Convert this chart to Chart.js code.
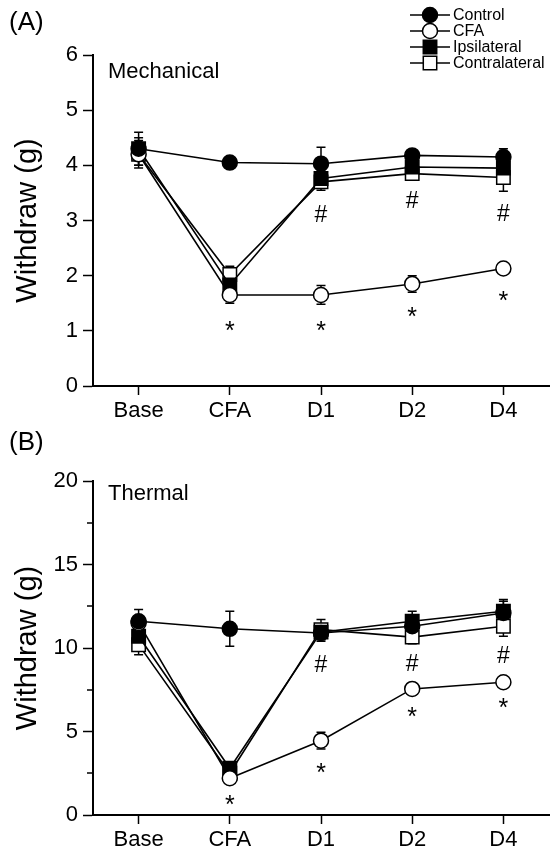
<!DOCTYPE html>
<html><head><meta charset="utf-8">
<script src="https://cdn.jsdelivr.net/npm/chart.js@4.4.0/dist/chart.umd.min.js"></script>
<style>
html,body{margin:0;padding:0;background:#fff;overflow:hidden;width:550px;height:856px}
.panel{position:absolute;left:0;width:550px;height:428px;overflow:hidden}
#pa{top:0}#pb{top:428px}
canvas{display:block}
.lbl{position:absolute;font-family:'Liberation Sans',Arial,sans-serif;color:#000;white-space:nowrap;line-height:1}
</style></head><body>
<div class="panel" id="pa"><canvas id="ca" width="560" height="428" style="width:560px;height:428px"></canvas>
<div class="lbl" style="left:9px;top:8px;font-size:26px">(A)</div>
<div class="lbl" style="left:108px;top:60px;font-size:22px">Mechanical</div>
</div>
<div class="panel" id="pb"><canvas id="cb" width="560" height="428" style="width:560px;height:428px"></canvas>
<div class="lbl" style="left:9px;top:0px;font-size:26px">(B)</div>
<div class="lbl" style="left:108px;top:54px;font-size:22px">Thermal</div>
</div>
<script>
// ---- data ----
const categories = ['Base', 'CFA', 'D1', 'D2', 'D4'];
const seriesNames = ['Control', 'CFA', 'Ipsilateral', 'Contralateral'];

// Panel A: Mechanical
const mechControl = [4.30, 4.05, 4.03, 4.18, 4.15];
const mechControlErr = [0.30, 0.05, 0.30, 0.10, 0.15];
const mechCFA = [4.20, 1.65, 1.65, 1.85, 2.13];
const mechCFAErr = [0.20, 0.15, 0.17, 0.15, 0.10];
const mechIpsi = [4.30, 1.83, 3.76, 3.97, 3.95];
const mechIpsiErr = [0.20, 0.15, 0.15, 0.12, 0.12];
const mechContra = [4.20, 2.02, 3.70, 3.85, 3.78];
const mechContraErr = [0.25, 0.15, 0.15, 0.10, 0.25];
const mechStar = [null, 1.09, 1.09, 1.35, 1.64];
const mechHash = [null, null, 3.13, 3.38, 3.15];
const mechTicks = {min: 0, max: 6, step: 0.5, major: 1};

// Panel B: Thermal
const thermControl = [11.6, 11.15, 10.9, 11.3, 12.1];
const thermControlErr = [0.7, 1.05, 0.5, 0.5, 0.7];
const thermCFA = [11.5, 2.2, 4.45, 7.55, 7.95];
const thermCFAErr = [0.4, 0.3, 0.5, 0.35, 0.3];
const thermIpsi = [10.7, 2.8, 10.95, 11.6, 12.2];
const thermIpsiErr = [0.5, 0.3, 0.4, 0.6, 0.7];
const thermContra = [10.2, 2.5, 11.1, 10.65, 11.3];
const thermContraErr = [0.6, 0.3, 0.6, 0.4, 0.6];
const thermStar = [0.9, 2.8, 6.17, 6.7];
const thermStarCats = [1, 2, 3, 4];
const thermHash = [null, null, 9.1, 9.16, 9.64];
const thermTicks = {min: 0, max: 20, step: 2.5, major: 5};

const FONT = "'Liberation Sans', Arial, sans-serif";

const styles = [
  {pointStyle: 'circle', radius: 7.5, fill: '#000'},
  {pointStyle: 'circle', radius: 7.5, fill: '#fff'},
  {pointStyle: 'rect', radius: 9.5, fill: '#000'},
  {pointStyle: 'rect', radius: 9.5, fill: '#fff'}
];

function makeDatasets(vals, errs) {
  return vals.map((v, i) => ({
    label: seriesNames[i],
    data: v,
    errors: errs[i],
    borderColor: '#000',
    borderWidth: 1.6,
    backgroundColor: styles[i].fill,
    pointStyle: styles[i].pointStyle,
    pointRadius: styles[i].radius,
    pointHoverRadius: styles[i].radius,
    pointBackgroundColor: styles[i].fill,
    pointBorderColor: '#000',
    pointBorderWidth: 1.5,
    tension: 0,
    fill: false
  }));
}

const errorBars = {
  id: 'errorBars',
  beforeDatasetsDraw(chart) {
    const {ctx, scales: {y}} = chart;
    ctx.save();
    ctx.strokeStyle = '#000';
    ctx.lineWidth = 1.5;
    chart.data.datasets.forEach((ds, i) => {
      const meta = chart.getDatasetMeta(i);
      ds.errors.forEach((e, j) => {
        const px = meta.data[j].x;
        const yt = y.getPixelForValue(ds.data[j] + e);
        const yb = y.getPixelForValue(ds.data[j] - e);
        ctx.beginPath();
        ctx.moveTo(px, yt); ctx.lineTo(px, yb);
        ctx.moveTo(px - 4.5, yt); ctx.lineTo(px + 4.5, yt);
        ctx.moveTo(px - 4.5, yb); ctx.lineTo(px + 4.5, yb);
        ctx.stroke();
      });
    });
    ctx.restore();
  }
};

const marks = {
  id: 'marks',
  afterDatasetsDraw(chart, args, opts) {
    const {ctx, scales: {x, y}} = chart;
    ctx.save();
    ctx.fillStyle = '#000';
    ctx.textAlign = 'center';
    ctx.textBaseline = 'alphabetic';
    (opts.items || []).forEach(it => {
      ctx.font = (it.t === '*' ? '25px ' : '23px ') + FONT;
      const m = ctx.measureText(it.t);
      const cx = x.getPixelForValue(it.c);
      const cy = y.getPixelForValue(it.v);
      ctx.fillText(it.t, cx, cy + (m.actualBoundingBoxAscent - m.actualBoundingBoxDescent) / 2);
    });
    ctx.restore();
  }
};

const minorTicks = {
  id: 'minorTicks',
  afterDraw(chart, args, opts) {
    const {ctx, scales: {y}} = chart;
    ctx.save();
    ctx.strokeStyle = '#000';
    ctx.lineWidth = 1.5;
    y.ticks.forEach(t => {
      if (Math.abs(t.value / opts.major - Math.round(t.value / opts.major)) > 1e-6) {
        const py = Math.round(y.getPixelForValue(t.value));
        ctx.beginPath();
        ctx.moveTo(y.right - 6, py); ctx.lineTo(y.right, py);
        ctx.stroke();
      }
    });
    ctx.restore();
  }
};

const lineLegend = {
  id: 'lineLegend',
  afterDraw(chart, args, opts) {
    if (!opts.show) return;
    const ctx = chart.ctx;
    ctx.save();
    chart.data.datasets.forEach((ds, i) => {
      const yy = opts.top + i * opts.gap;
      ctx.strokeStyle = '#000';
      ctx.lineWidth = 1.5;
      ctx.beginPath();
      ctx.moveTo(opts.x0, yy); ctx.lineTo(opts.x1, yy);
      ctx.stroke();
      ctx.fillStyle = ds.pointBackgroundColor;
      Chart.helpers.drawPoint(ctx, {pointStyle: ds.pointStyle, radius: ds.pointRadius, rotation: 0, borderWidth: 1.5}, (opts.x0 + opts.x1) / 2, yy);
      ctx.fillStyle = '#000';
      ctx.font = '16px ' + FONT;
      ctx.textAlign = 'left';
      ctx.textBaseline = 'middle';
      ctx.fillText(ds.label, opts.x1 + 3, yy + 1);
    });
    ctx.restore();
  }
};

function makeChart(id, vals, errs, tk, markItems, legendOpts, topPad, bottomY) {
  return new Chart(document.getElementById(id), {
    type: 'line',
    data: {labels: categories, datasets: makeDatasets(vals, errs)},
    plugins: [errorBars, marks, minorTicks, lineLegend],
    options: {
      responsive: false,
      devicePixelRatio: 1,
      animation: false,
      events: [],
      layout: {padding: {left: 0, top: topPad, right: 8, bottom: 0}},
      plugins: {
        legend: {display: false},
        tooltip: {enabled: false},
        marks: {items: markItems},
        minorTicks: {major: tk.major},
        lineLegend: legendOpts
      },
      scales: {
        x: {
          offset: true,
          afterFit(s) { s.height = 428 - bottomY; },
          grid: {offset: false, drawOnChartArea: false, drawTicks: true, tickLength: 9, tickWidth: 1.5, tickColor: '#000'},
          border: {display: true, color: '#000', width: 2},
          ticks: {color: '#000', font: {family: FONT, size: 22}, padding: 3, maxRotation: 0, autoSkip: false}
        },
        y: {
          min: tk.min, max: tk.max,
          afterFit(s) { s.width = 93; },
          grid: {drawOnChartArea: false, drawTicks: true, tickLength: 10, tickWidth: 1.5,
            tickColor: c => (Math.abs(c.tick.value / tk.major - Math.round(c.tick.value / tk.major)) > 1e-6 ? 'rgba(0,0,0,0)' : '#000')},
          border: {display: true, color: '#000', width: 2},
          ticks: {stepSize: tk.step, color: '#000', font: {family: FONT, size: 22}, padding: 5,
            callback: v => (Math.abs(v / tk.major - Math.round(v / tk.major)) > 1e-6 ? '' : String(v))},
          title: {display: true, text: 'Withdraw (g)', color: '#000', font: {family: FONT, size: 29}, padding: {top: 11, bottom: 0}}
        }
      }
    }
  });
}

const itemsA = [];
mechStar.forEach((v, j) => { if (v !== null) itemsA.push({t: '*', c: j, v: v}); });
mechHash.forEach((v, j) => { if (v !== null) itemsA.push({t: '#', c: j, v: v}); });
const itemsB = [];
thermStar.forEach((v, k) => itemsB.push({t: '*', c: thermStarCats[k], v: v}));
thermHash.forEach((v, j) => { if (v !== null) itemsB.push({t: '#', c: j, v: v}); });

makeChart('ca', [mechControl, mechCFA, mechIpsi, mechContra],
  [mechControlErr, mechCFAErr, mechIpsiErr, mechContraErr], mechTicks, itemsA,
  {show: true, x0: 410, x1: 450, top: 15, gap: 16}, 55, 386);
makeChart('cb', [thermControl, thermCFA, thermIpsi, thermContra],
  [thermControlErr, thermCFAErr, thermIpsiErr, thermContraErr], thermTicks, itemsB,
  {show: false}, 53, 387);
</script>
</body></html>
